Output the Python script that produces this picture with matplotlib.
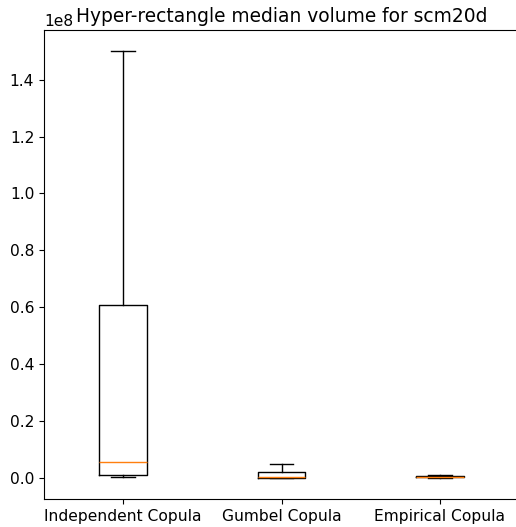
import matplotlib
matplotlib.use("Agg")
import matplotlib.pyplot as plt

# box statistics (units of 1e8 applied below)
labels = ['Independent Copula', 'Gumbel Copula', 'Empirical Copula']
whislo = [0.002, 0.0, 0.0]
q1 = [0.011, 0.0, 0.001]
med = [0.056, 0.003, 0.003]
q3 = [0.607, 0.021, 0.005]
whishi = [1.5, 0.049, 0.010]

scale = 1e8
stats = []
for i in range(len(labels)):
    stats.append({
        'label': labels[i],
        'whislo': whislo[i] * scale,
        'q1': q1[i] * scale,
        'med': med[i] * scale,
        'q3': q3[i] * scale,
        'whishi': whishi[i] * scale,
        'fliers': [],
    })

plt.rcParams['font.size'] = 11.2
fig = plt.figure(figsize=(5.16, 5.27), dpi=100)
# right spine falls just outside the saved image, as in the original
ax = fig.add_axes([44 / 516, 28 / 527, 475 / 516, 469 / 527])
ax.bxp(stats, showfliers=False)
ax.set_title('Hyper-rectangle median volume for scm20d', fontsize=13.4, y=1.0)
fig.savefig('out.png', dpi=100)
